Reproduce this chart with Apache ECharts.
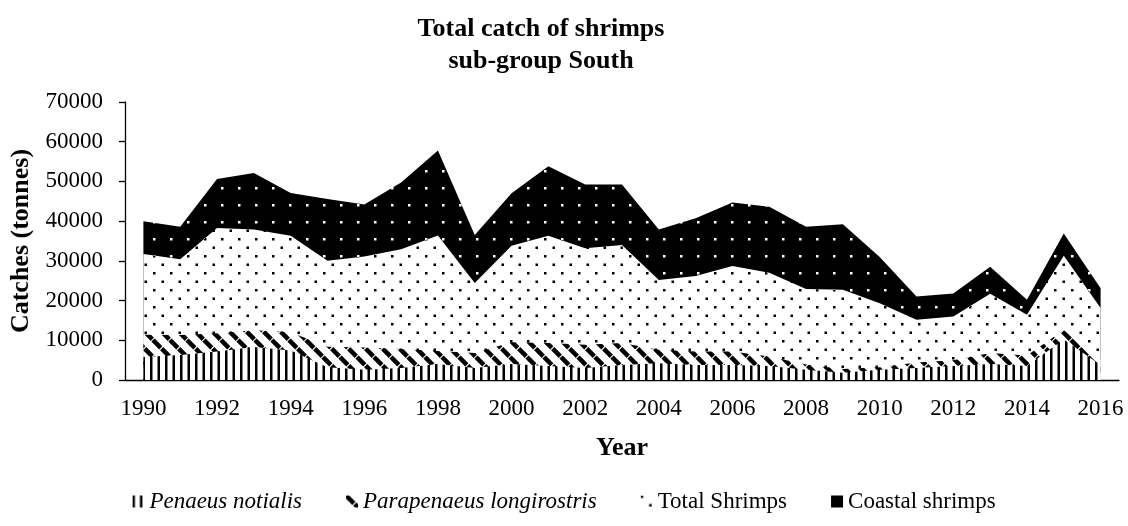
<!DOCTYPE html>
<html>
<head>
<meta charset="utf-8">
<script src="https://cdn.jsdelivr.net/npm/echarts@6/dist/echarts.min.js"></script>
<style>
html,body{margin:0;padding:0;background:#fff;}
#chart{width:1128px;height:526px;}
</style>
</head>
<body>
<div id="chart"></div>
<script>
// ---- data (tonnes) ----
const years = ['1990','1991','1992','1993','1994','1995','1996','1997','1998','1999','2000','2001','2002','2003','2004','2005','2006','2007','2008','2009','2010','2011','2012','2013','2014','2015','2016'];
const penaeusNotialis = [5800,6300,7200,8300,7400,3200,2600,3000,4000,3000,4000,3500,3000,3800,4200,3800,3800,3500,2600,1800,2600,3000,3500,4000,3500,10200,3800];
const parapenaeusLongirostris = [11400,11300,11800,12500,12000,8400,8200,7800,7300,6800,9500,9300,8900,9300,7600,7200,7200,5900,3900,2800,3200,4400,5000,6800,6200,12600,5000];
const totalShrimps = [31700,30400,38300,37900,36300,30000,31100,32900,36400,24400,33800,36300,33200,34000,25200,26200,28700,27000,22900,22700,19300,15200,16000,21700,16400,31300,18100];
const coastalShrimps = [40000,38600,50600,52100,47100,45600,44200,49700,57800,36500,47000,53800,49200,49200,37900,40700,44700,43600,38600,39200,31000,21000,21800,28500,20200,36900,23100];
const seriesNames = ['Penaeus notialis','Parapenaeus longirostris','Total Shrimps','Coastal shrimps'];

// ---- patterns ----
function tile(w, h, draw) {
  const c = document.createElement('canvas');
  c.width = w; c.height = h;
  const ctx = c.getContext('2d');
  draw(ctx, w, h);
  return c;
}
const T = 17;
const dotsPat = tile(T, T, (ctx) => {
  ctx.fillStyle = '#fff'; ctx.fillRect(0, 0, T, T);
  ctx.fillStyle = '#000';
  ctx.fillRect(0, 0, 2.5, 2.5);
  ctx.fillRect(8.5, 8.5, 2.5, 2.5);
});
const blackDotsPat = tile(T, T, (ctx) => {
  ctx.fillStyle = '#000'; ctx.fillRect(0, 0, T, T);
  ctx.fillStyle = '#fff';
  ctx.fillRect(0, 0, 2.5, 2.5);
});
const vlinesPat = tile(15, 15, (ctx) => {
  ctx.fillStyle = '#fff'; ctx.fillRect(0, 0, 15, 15);
  ctx.fillStyle = '#000';
  ctx.fillRect(0, 0, 2.5, 15);
  ctx.fillRect(7.5, 0, 2.5, 15);
});
const hatchPat = tile(T, T, (ctx) => {
  ctx.fillStyle = '#fff'; ctx.fillRect(0, 0, T, T);
  ctx.strokeStyle = '#000';
  ctx.lineWidth = 4.5;
  ctx.lineCap = 'butt';
  for (const ox of [-T, 0, T]) {
    for (const oy of [-T, 0, T]) {
      ctx.beginPath();
      ctx.moveTo(ox + 0, oy + 0); ctx.lineTo(ox + 7.8, oy + 7.8);
      ctx.moveTo(ox + 8.7, oy + 8.7); ctx.lineTo(ox + 16.3, oy + 16.3);
      ctx.stroke();
    }
  }
});
const pat = (c) => ({ image: c, repeat: 'repeat' });

const font = '"Liberation Serif", "Times New Roman", serif';

function areaSeries(name, data, pattern) {
  return {
    name: name,
    type: 'line',
    data: data,
    symbol: 'none',
    silent: true,
    lineStyle: { width: 0, opacity: 0 },
    itemStyle: { color: '#000' },
    areaStyle: { color: pat(pattern), opacity: 1 },
    emphasis: { disabled: true }
  };
}

const chart = echarts.init(document.getElementById('chart'), null, { renderer: 'canvas' });
chart.setOption({
  animation: false,
  backgroundColor: '#fff',
  title: {
    text: 'Total catch of shrimps\nsub-group South',
    left: 536,
    top: 8,
    textAlign: 'center',
    textStyle: { fontFamily: font, fontSize: 26, fontWeight: 'bold', color: '#000', lineHeight: 32 }
  },
  legend: {
    bottom: 8,
    left: 'center',
    itemWidth: 12,
    itemHeight: 12,
    itemGap: 44,
    icon: 'rect',
    selectedMode: false,
    data: [
      { name: seriesNames[0], itemStyle: { color: pat(vlinesPat) } },
      { name: seriesNames[1], itemStyle: { color: pat(hatchPat) } },
      { name: seriesNames[2], itemStyle: { color: pat(dotsPat) } },
      { name: seriesNames[3], itemStyle: { color: '#000' } }
    ],
    formatter: (n) => (n === seriesNames[0] || n === seriesNames[1]) ? '{it|' + n + '}' : '{rg|' + n + '}',
    textStyle: {
      fontFamily: font, fontSize: 23, color: '#000',
      rich: {
        it: { fontFamily: font, fontSize: 23, fontStyle: 'italic', color: '#000' },
        rg: { fontFamily: font, fontSize: 23, color: '#000' }
      }
    }
  },
  grid: { left: 125, right: 9, top: 102, bottom: 146, containLabel: false },
  xAxis: {
    type: 'category',
    data: years,
    boundaryGap: true,
    name: 'Year',
    nameLocation: 'middle',
    nameGap: 55,
    nameTextStyle: { fontFamily: font, fontSize: 26, fontWeight: 'bold', color: '#000' },
    axisLine: { lineStyle: { color: '#000', width: 1.3 } },
    axisTick: { interval: 0, length: 6, lineStyle: { color: '#000', width: 1.3 } },
    axisLabel: { interval: 1, margin: 17, fontFamily: font, fontSize: 23, color: '#000' },
    splitLine: { show: false }
  },
  yAxis: {
    type: 'value',
    min: 0,
    max: 70000,
    interval: 10000,
    name: 'Catches (tonnes)',
    nameLocation: 'middle',
    nameGap: 90,
    nameTextStyle: { fontFamily: font, fontSize: 26, fontWeight: 'bold', color: '#000' },
    axisLine: { show: true, lineStyle: { color: '#000', width: 1.3 } },
    axisTick: { show: true, length: 6, lineStyle: { color: '#000', width: 1.3 } },
    axisLabel: { margin: 22, fontFamily: font, fontSize: 23, color: '#000', formatter: (v) => String(v) },
    splitLine: { show: false }
  },
  series: [
    areaSeries(seriesNames[3], coastalShrimps, blackDotsPat),
    areaSeries(seriesNames[2], totalShrimps, dotsPat),
    areaSeries(seriesNames[1], parapenaeusLongirostris, hatchPat),
    areaSeries(seriesNames[0], penaeusNotialis, vlinesPat)
  ]
});
</script>
</body>
</html>
